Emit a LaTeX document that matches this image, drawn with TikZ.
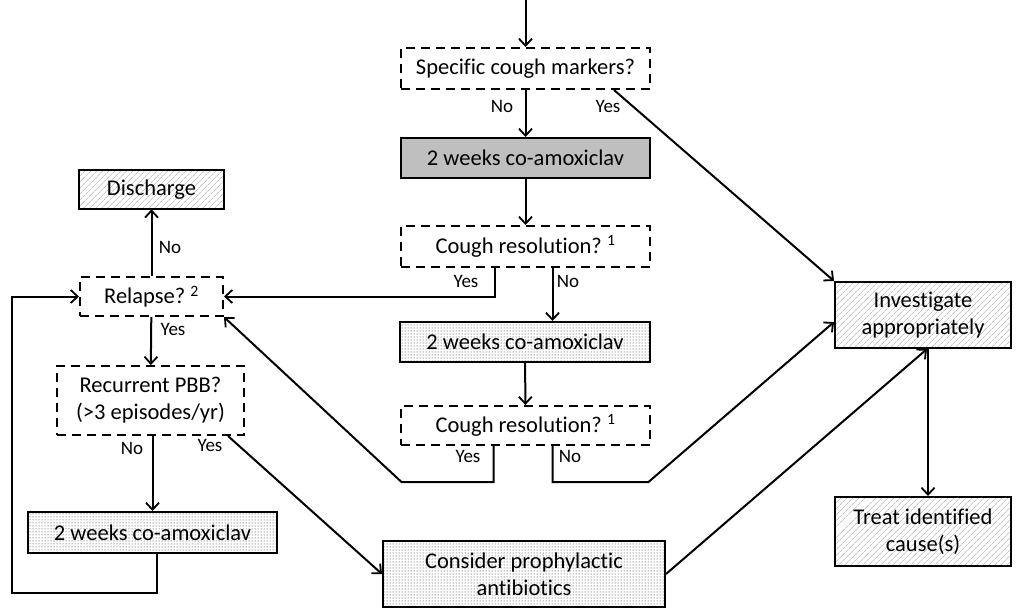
\documentclass[tikz,border=0pt]{standalone}
\usepackage{fontspec}
\setmainfont[Ligatures=NoCommon]{Carlito}
\usetikzlibrary{arrows.meta,patterns,patterns.meta}

\begin{document}
\begin{tikzpicture}[x=1pt,y=-1pt,
    line width=2pt,
    >={Straight Barb[length=7pt,width=13pt,line width=1.8pt]},
    box/.style={draw,inner sep=2pt,align=center,font=\fontsize{22.5}{27}\selectfont},
    askbox/.style={box,dash pattern=on 9pt off 6pt,fill=white},
    greybox/.style={box,fill=black!25},
    dotbox/.style={box,pattern=dots,pattern color=black!85},
    hatchbox/.style={box,pattern={Lines[angle=45,distance=4pt,line width=0.6pt]},pattern color=black!35},
    lbl/.style={font=\fontsize{19}{22}\selectfont,inner sep=0pt}]
  \useasboundingbox (0,0) rectangle (1017,610);

  \node[askbox,minimum width=249,minimum height=41] (spec) at (525.5,68.5) {Specific cough markers?};
  \node[greybox,minimum width=249,minimum height=40] (abx1) at (525.5,158) {2 weeks co-amoxiclav};
  \node[askbox,minimum width=249,minimum height=41] (res1) at (525.5,246.5) {Cough resolution?~\textsuperscript{1}};
  \node[dotbox,minimum width=250,minimum height=40] (abx2) at (525,342) {2 weeks co-amoxiclav};
  \node[askbox,minimum width=249,minimum height=39] (res2) at (525.5,425.5) {Cough resolution?~\textsuperscript{1}};

  \node[hatchbox,minimum width=145,minimum height=39] (disch) at (151.5,189.5) {Discharge};
  \node[askbox,minimum width=143,minimum height=39] (relapse) at (151.5,296.5) {Relapse?~\textsuperscript{2}};
  \node[askbox,minimum width=187,minimum height=69] (pbb) at (150.5,400.5) {Recurrent PBB?\\(>3 episodes/yr)};
  \node[dotbox,minimum width=249,minimum height=41] (abx3) at (152.5,532.5) {2 weeks co-amoxiclav};

  \node[dotbox,minimum width=282,minimum height=66] (proph) at (524,574) {Consider prophylactic\\antibiotics};
  \node[hatchbox,minimum width=176,minimum height=66] (invest) at (923,315) {Investigate\\appropriately};
  \node[hatchbox,minimum width=176,minimum height=69] (treat) at (923,531.5) {Treat identified\\cause(s)};

  \coordinate (start) at (525.5,0);
  \coordinate (loop) at (12,593);

  \draw[->] (start) -- (spec);
  \draw[->] (spec) -- (abx1);
  \node[lbl] (specno) at (502,106) {No};
  \draw[->] ([xshift=-37pt]spec.south east) -- (invest.north west);
  \node[lbl] (specyes) at (608,106) {Yes};
  \draw[->] (abx1) -- (res1);

  \draw[->] ([xshift=-31pt]res1.south) |- (relapse.east);
  \node[lbl] (res1yes) at (466,281) {Yes};
  \draw[->] ([xshift=27pt]res1.south) -- ([xshift=27.5pt]abx2.north);
  \node[lbl] (res1no) at (568,281) {No};
  \draw[->] (abx2) -- (res2);

  \draw[->] ([xshift=-32pt]res2.south) -- ++(0,36) -- ++(-92,0) -- (relapse.south east);
  \node[lbl] (res2yes) at (468,456) {Yes};
  \draw[->] ([xshift=27pt]res2.south) -- ++(0,36) -- ++(96,0) -- ([yshift=-7pt]invest.west);
  \node[lbl] (res2no) at (570,456) {No};

  \draw[->] (relapse) -- (disch);
  \node[lbl] (relno) at (170,247) {No};
  \draw[->] (relapse) -- (pbb);
  \node[lbl] (relyes) at (173,329) {Yes};

  \draw[->] ([xshift=2pt]pbb.south) -- ([xshift=0pt]abx3.north);
  \node[lbl] (pbbno) at (132,448) {No};
  \draw[->] ([xshift=-17pt]pbb.south east) -- (proph.west);
  \node[lbl] (pbbyes) at (210,445) {Yes};
  \draw[->] ([xshift=4pt]abx3.south) |- (loop) |- (relapse.west);

  \draw[->] (proph.east) -- ([xshift=4pt]invest.south);
  \draw[->] ([xshift=5pt]invest.south) -- ([xshift=5pt]treat.north);
\end{tikzpicture}
\end{document}
